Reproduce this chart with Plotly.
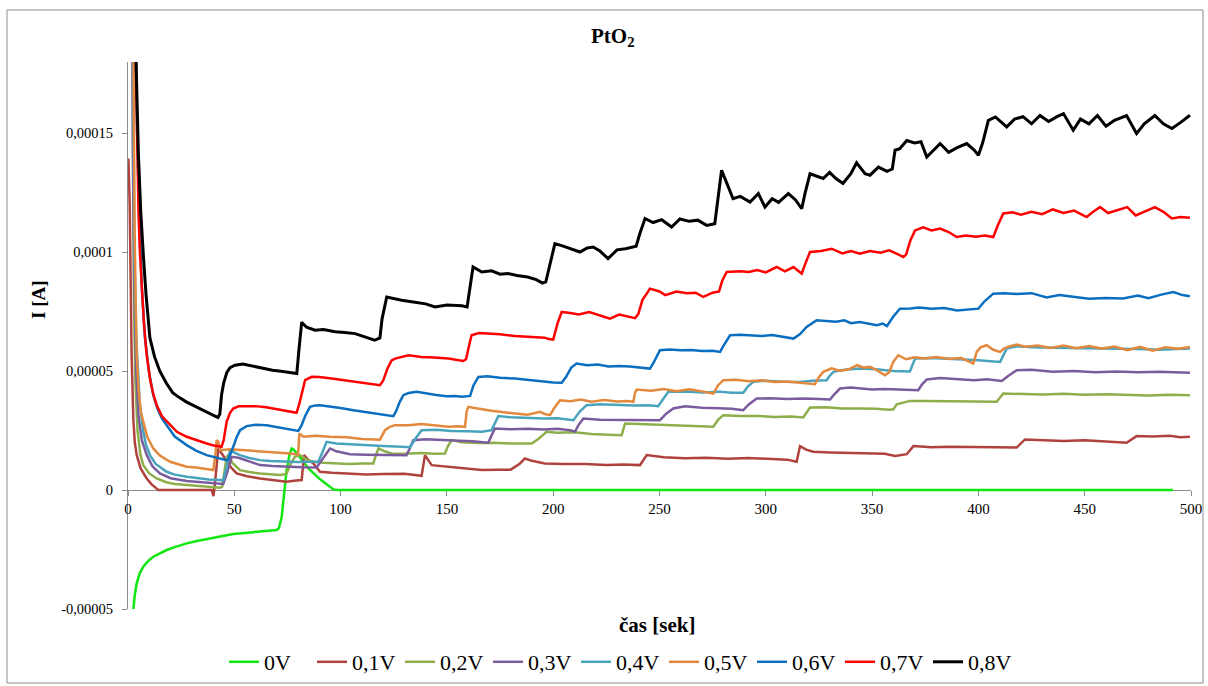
import plotly.graph_objects as go

# ---- data (time in s, current in microamperes) ----
t_0V = [2.5, 3.2, 4.1, 5.5, 7.2, 9.5, 11.9, 15, 18.2, 22, 27.6, 33, 38.6, 44, 49.5, 55, 60.5, 65, 69.9, 71, 72.3,
        73.5, 74.6, 76, 77, 78, 79.3, 82.5, 85, 87.2, 90, 91.9, 94.5, 96.6, 98.7, 150, 200, 300, 400, 491.5]
i_0V = [-50.4, -44, -39.2, -35, -32.2, -29.8, -28, -26.5, -25.2, -24, -22.4, -21.3, -20.3, -19.2, -18.5, -18, -17.5,
        -17.2, -16.8, -16, -11.2, -1, 8.4, 15, 17.5, 17, 15.4, 11.9, 9, 7, 4.8, 3.5, 1.5, 0.3, 0, 0, 0, 0, 0, 0]

t_01V = [0.2, 0.8, 1.3, 1.7, 2.5, 3.2, 4.1, 6, 8.8, 11, 14.3, 20, 30, 39.4, 40.2, 40.8, 42.5, 44, 46.4, 48.5, 51.1, 56,
         62.1, 68, 74.6, 78, 81.7, 82.8, 85, 87.2, 90.3, 96, 104, 112, 120, 130, 138.1, 139.7, 142.8, 150, 158, 166.4,
         174, 180, 184.4, 186.7, 190, 196, 205, 215, 225, 233, 240.8, 244, 252, 262, 272, 282, 292, 302, 310, 314.5,
         316.1, 319, 322.3, 330, 338, 344.3, 352, 356, 360.8, 366.3, 369.4, 378, 386, 395, 405, 418, 421.9, 430, 440,
         450, 460, 469.7, 474.4, 482, 490, 495, 499.5]
i_01V = [139.4, 120, 85, 56.7, 30, 20, 14.7, 9, 4.9, 2.5, 0, 0, 0, 0, -2.5, 2, 17.5, 15.5, 12.6, 9.5, 7, 5.8, 4.9, 4.2,
         3.5, 3.9, 4.2, 14.7, 12.5, 11.2, 7.7, 7.3, 7.0, 6.6, 6.8, 6.9, 6.0, 14.7, 10.5, 9.8, 9.2, 8.4, 8.6, 8.6, 11.2,
         13.3, 12.3, 11.2, 11.0, 11.0, 10.6, 10.8, 10.5, 14.7, 13.8, 13.4, 13.6, 13.2, 13.5, 13.2, 12.8, 11.9, 18.5,
         17, 16.1, 15.8, 15.6, 15.4, 15.5, 15.3, 14.3, 15.1, 18.5, 18.0, 18.2, 18.1, 18.2, 17.9, 21.3, 20.9, 20.6, 21.0,
         20.5, 19.9, 22.7, 22.5, 22.8, 22.2, 22.4]

t_02V = [1.8, 2.3, 2.8, 3.5, 4.5, 5.8, 7.2, 10, 13.5, 18, 22, 27.6, 35, 43.3, 44.3, 45.5, 46.4, 47.2, 49, 52.7, 57, 62.1,
         67, 71.5, 74.5, 76.5, 78.5, 80.9, 84, 87.2, 92, 96.6, 104, 110, 115.4, 116.5, 117.8, 121, 124, 130, 138, 144,
         149.1, 150.5, 152.3, 157, 165, 172, 180, 189.9, 193, 196.9, 202, 210, 218, 226, 232.2, 233.8, 240, 248, 256,
         265, 275.3, 277.5, 280, 288, 296, 304, 312, 317.6, 320.8, 328, 336, 344.3, 352, 358, 360, 361.6, 367.8, 375,
         385, 395, 408.6, 411.7, 420, 430, 440, 450, 460, 470, 480, 490, 499.5]
i_02V = [240, 130, 80, 45, 25, 15, 10.5, 7, 4.9, 3.3, 2.6, 2.1, 1.5, 1.0, 1.4, 8, 14, 14.7, 11.5, 8.4, 7.6, 7, 6.6, 6.3,
         6.8, 11, 14, 14.7, 12.8, 11.9, 11.5, 11.2, 11.0, 11.2, 11.2, 14.5, 17.5, 16.2, 15.4, 15.3, 15.6, 15.3, 15.4,
         18.5, 21, 20.1, 19.8, 19.9, 19.6, 19.6, 21.5, 24.5, 24.1, 24.3, 23.6, 23.3, 23.1, 28, 27.8, 27.6, 27.5, 27.2,
         26.6, 29.5, 31.5, 31.1, 31.2, 30.7, 30.9, 30.5, 34.7, 34.8, 34.3, 34.3, 34.2, 33.8, 34, 36.1, 37.5, 37.5, 37.3,
         37.1, 37.1, 40.6, 40.4, 40.2, 40.5, 40.1, 40.3, 40.2, 39.8, 40.1, 39.9]

t_03V = [1.8, 2.3, 2.9, 3.8, 4.9, 6.5, 8.8, 11.5, 15, 20, 27.6, 35, 43.3, 44.8, 46.5, 48.8, 52, 56, 62.1, 68, 74.6, 82,
         88.7, 91.5, 95, 98, 104.4, 112, 120, 131, 132.5, 134.2, 140, 148, 156, 162, 169.5, 171, 172.6, 180, 188, 196,
         202, 207.9, 210.3, 212, 214.2, 222, 232, 242, 250.2, 253, 256.5, 262, 270, 278, 284, 289.4, 292, 295.7, 302,
         310, 318, 325, 330.2, 332, 334.9, 340, 344.3, 350, 356, 364, 371.7, 373.5, 375.7, 382, 390, 398, 404, 411, 414,
         418, 425, 435, 445, 455, 465, 475, 485, 492, 499.5]
i_03V = [240, 140, 90, 52, 31.5, 21, 14.7, 10, 7, 5, 3.8, 3.2, 2.8, 2.6, 7, 14, 13.6, 12.3, 10.5, 10.1, 9.8, 9.6, 9.5,
         13, 17.5, 16.3, 15.1, 14.9, 14.9, 14.7, 17.5, 21, 21.4, 20.9, 20.7, 20.5, 19.9, 23, 25.9, 25.6, 25.8, 25.5,
         25.8, 25.2, 24.6, 27.5, 30.1, 29.6, 29.5, 29.3, 29.4, 32, 34.3, 35.2, 34.6, 34.4, 34.2, 33.6, 36, 38.5, 38.6,
         38.3, 38.5, 38.3, 38.1, 40, 42.7, 43.1, 42.7, 42.3, 42.5, 42.2, 42, 44.5, 46.5, 47.1, 46.8, 46.2, 46.6, 45.9, 48,
         50.4, 50.6, 49.8, 50.1, 49.6, 49.9, 49.6, 49.8, 49.5, 49.3]

t_04V = [2.0, 2.5, 3.0, 3.8, 5.6, 7.2, 8.5, 10.3, 13, 18.2, 22, 27.6, 33, 38, 43.3, 44.8, 46.4, 48, 50, 52.7, 57, 62.1,
         67, 73, 80, 85, 89.5, 91.5, 93.4, 98, 105, 112, 120, 128.7, 132.6, 135.5, 138.1, 145, 152, 160, 166.4, 171,
         172.5, 174.2, 180, 188, 196, 202, 209.5, 212.5, 215.7, 222, 230, 238, 245, 249.4, 251.5, 254.1, 262, 270, 278,
         284, 289.4, 291.5, 294.1, 300, 308, 316, 322, 328.6, 330, 331.8, 337, 344.3, 352, 360, 367.8, 370.2, 378, 386,
         394, 400, 410.2, 413.3, 418, 425, 435, 445, 455, 465, 475, 485, 493, 499.5]
i_04V = [240, 150, 100, 65, 35.7, 24.5, 19, 14.7, 11, 7.7, 6.5, 5.6, 4.9, 4.5, 4.2, 4.0, 10, 16.8, 15.8, 14.7, 13.5,
         12.6, 12.2, 11.9, 11.8, 11.9, 11.9, 16, 20.3, 19.6, 19.2, 18.8, 18.5, 18.2, 18, 22, 25.2, 25.4, 24.8, 24.7,
         24.5, 25.2, 28, 31.1, 30.6, 30.3, 30.1, 30.2, 29.4, 33, 35.7, 36.1, 35.8, 35.6, 35.7, 35.3, 38, 41.3, 41.5, 41.0,
         41.4, 40.9, 40.9, 43.5, 45.5, 46, 45.6, 45.4, 46, 46.2, 48, 49.7, 50.6, 51.1, 50.8, 50.1, 49.9, 55.3, 55.5, 55.2,
         55, 54.6, 53.9, 59.5, 60.5, 60.1, 59.9, 59.8, 59.4, 59.5, 59.3, 59, 59.4, 59.5]

t_05V = [2.2, 2.6, 3.1, 3.6, 4.1, 5.0, 6.0, 7.2, 9, 11.9, 15, 19.8, 24, 27.6, 32, 36, 40.1, 41, 41.7, 42.5, 43.3, 48,
         55, 62, 68, 76.2, 80, 80.6, 82.5, 88, 95, 103, 110, 117, 118.5, 120.9, 123.2, 125.6, 132, 138, 144, 150.7, 155,
         158.5, 159.3, 160.1, 163, 166.4, 171, 176, 182, 188, 193.8, 196, 198.5, 200.5, 203.2, 208, 213, 218, 224, 230,
         235, 237.7, 238.5, 239.3, 246, 252, 258, 264, 270, 275.3, 277.5, 280, 286, 292, 298, 304, 310, 316, 320, 323.1,
         325, 327, 331, 335, 339, 343, 346, 349, 352.2, 356, 358, 360, 362.3, 366, 370, 375, 380, 386, 392, 397.6, 399.2,
         401, 403.9, 407, 410.2, 412, 414.9, 418, 422, 428, 434, 440, 446, 452, 458, 464, 470, 476, 482, 488, 494, 499.5]
i_05V = [240, 160, 110, 80, 56.7, 42, 33, 28.7, 22.5, 17.5, 14.5, 11.9, 10.7, 9.8, 9.5, 8.8, 8.4, 14, 21, 20.3, 16.8,
         17.2, 16.8, 16.5, 15.9, 15.4, 15, 23.8, 22.4, 22.8, 22.4, 22.2, 21.5, 21, 21.2, 25.2, 26.6, 27.3, 27.3, 27.8,
         27.2, 26.6, 26.8, 26.6, 33, 35, 34.5, 33.9, 33.4, 32.8, 32.2, 31.7, 32.9, 32, 31.5, 34.5, 37.8, 37.4, 38.1,
         37.2, 37.9, 37.3, 37.5, 37.1, 41, 42.3, 41.8, 42.5, 41.6, 42.4, 41.5, 40.6, 44, 46.2, 46.4, 45.8, 46.2, 45.4,
         45.7, 45.2, 44.8, 44.5, 47.5, 49.7, 51.2, 50.1, 50.8, 52.5, 51.5, 51.8, 50.4, 48.3, 49.5, 54, 56.7, 55, 55.8,
         55.3, 56, 55.2, 55.5, 53.2, 58.1, 60, 60.9, 59, 58.1, 59.5, 60.5, 61.2, 60.3, 60.8, 59.8, 60.8, 59.6, 60.6,
         59.5, 60.4, 58.8, 60.2, 58.6, 60.1, 59.4, 60.2]

t_06V = [2.8, 3.5, 4.3, 5.0, 5.6, 6.5, 8, 10, 11.9, 14, 16, 18.2, 22, 27.6, 32, 37, 42, 46.4, 47.2, 48.5, 49.5, 51, 52.7,
         55.8, 60, 65.2, 70, 74.6, 78, 80.1, 81.5, 83.5, 85.6, 88, 90.3, 95, 100, 106, 111, 117, 121, 124.8, 126, 127.8,
         129.5, 132, 135.8, 140, 145, 149.9, 154, 157, 160.9, 162.5, 164.8, 169, 175, 182, 189, 196, 200, 204, 206,
         208.5, 211, 216, 221, 226, 231, 236, 241, 245.5, 247.5, 250.2, 255, 260, 265, 270, 275, 278.5, 280, 283.2, 288,
         293, 298, 303, 308, 313, 316, 319.2, 323.9, 328, 333, 337, 340, 344.3, 348, 352.2, 355, 357, 360, 363.1, 368,
         372, 378, 384, 390, 396, 400, 403, 407, 412, 418, 425, 432.1, 438, 445, 452, 460, 468, 475, 480, 486, 491.7,
         496, 499.5]
i_06V = [240, 190, 150, 125, 105.8, 85, 63.7, 49, 39.9, 34, 30, 27.3, 22.5, 18.9, 16.6, 14.7, 13.5, 12.6, 12.9, 15.5,
         18.2, 22, 25.2, 26.9, 27.5, 27.3, 26.6, 25.9, 25.3, 24.9, 27, 31.5, 35, 35.6, 35.7, 35.2, 34.5, 33.6, 33, 32.2,
         31.8, 31.1, 33, 37, 39.9, 40.8, 41.3, 40.6, 40, 39.5, 39.6, 39.2, 39.6, 44, 47.6, 47.9, 47.2, 46.9, 46.2, 45.5,
         45.2, 45.1, 47.5, 51.5, 53.2, 52.5, 52.8, 52, 52.2, 52, 51.5, 51.1, 54, 58.8, 59.1, 58.8, 58.9, 58.5, 58.6,
         58.1, 60.5, 65.1, 65.3, 65, 64.8, 65.2, 64.3, 63.7, 65.5, 68.6, 71.4, 71, 70.8, 71.4, 70.2, 70.7, 70, 69.3, 70,
         69, 73, 76.3, 76.4, 76.8, 76.2, 76.6, 75.5, 75.9, 76.3, 79.5, 82.6, 82.8, 82.5, 82.8, 81, 82, 81.2, 80.5, 80.8,
         80.6, 81.8, 80.7, 82.2, 83.3, 82, 81.5]

t_07V = [2.5, 3.2, 4.2, 5.0, 5.6, 6.4, 7.5, 8.8, 10.5, 12, 13.5, 16, 19.8, 23, 27.6, 32, 37, 41, 44, 45, 46.4, 48, 49.5,
         52, 55.8, 60, 65, 70, 75, 78.5, 79.3, 80.5, 82, 83.3, 86.4, 90, 95.8, 101, 106.8, 112, 118.5, 120, 122, 124,
         125.6, 131.9, 138, 144, 150.7, 157.7, 159, 160.5, 161.6, 165, 169.5, 175, 182, 189, 196, 198, 200, 202, 204,
         208, 212, 217, 222, 226.7, 231, 235, 238.5, 240, 242, 244, 245.5, 250, 252.7, 258, 263, 267, 270.6, 275, 278,
         279.5, 281.6, 288, 292, 296, 300, 305.1, 309, 313, 316.9, 318.5, 320.8, 326, 331, 336, 340, 344.3, 349, 354,
         358, 362, 364.7, 366, 368, 370.2, 374, 378, 382, 386, 389.8, 394, 399, 403, 407, 409, 411.7, 416, 420, 425,
         430, 435, 440, 445, 450.9, 454, 457.2, 461, 466, 470, 474, 478, 483, 487, 491, 495, 499.5]
i_07V = [240, 200, 150, 115, 100, 85, 70, 56.7, 46, 40, 35.7, 31, 27.3, 24.5, 22.4, 21, 19.6, 18.6, 18.2, 21, 28.7,
         32.5, 34.3, 35.2, 35.4, 35.3, 34.8, 34, 33.4, 32.9, 32.5, 36, 42, 46.2, 47.6, 47.5, 46.9, 46.3, 45.5, 44.8,
         44.1, 46, 51, 54.5, 55.3, 56.7, 56, 55.8, 55.3, 54.3, 55, 61, 65.1, 66, 65.8, 65.5, 64.8, 64.5, 64.1, 63.5,
         63.3, 70, 74.9, 74.5, 73.8, 74.9, 73.5, 72.1, 73.8, 73, 72.3, 74, 80, 82.6, 84.7, 83.5, 82, 83.5, 82.8, 83,
         81.2, 83, 83.5, 88, 91.7, 92, 91.7, 92.5, 91.5, 93.8, 92, 93.8, 91, 95, 100.1, 100.5, 101.5, 99.5, 100.5, 99.4,
         100.5, 99.8, 100.8, 99.2, 98, 99, 105, 109.2, 110.5, 109.2, 110, 108.5, 106.4, 107, 106.5, 107, 106.4, 111,
         116.3, 116.8, 115.8, 117, 116, 118, 116.5, 117.5, 114.8, 117, 119, 116.5, 117.8, 119, 115.5, 117, 119, 117,
         114.2, 114.8, 114.5]

t_08V = [2.8, 3.8, 4.9, 6.0, 7.2, 8.5, 10.3, 12.5, 15, 18, 21, 24, 27.6, 31, 35, 38.5, 42.3, 43.2, 44, 45, 46.5, 48,
         50.3, 54, 59, 63, 68, 72, 76, 79.4, 80.3, 81.7, 84, 88, 92, 97.4, 102, 106.8, 111, 116, 118.5, 119.5, 121.7,
         125, 128.7, 135, 140, 144.4, 150, 157, 159.5, 161, 162.3, 166.4, 171, 175, 178.7, 183, 188, 192, 195, 196.5,
         198.5, 200.8, 204, 208, 212.6, 216, 218.8, 222, 225.8, 230, 234, 239, 240.8, 243.2, 247, 251, 255.7, 259.6,
         264, 268, 272.2, 276, 277.5, 279.2, 282.4, 284.6, 288, 292.6, 296.5, 299.6, 303, 306, 310.6, 314, 316.9, 318.5,
         320.8, 324, 327, 330, 333, 336.3, 340, 342.7, 346.7, 349, 353, 357, 359.5, 360.8, 363, 366.3, 370, 373, 375.7,
         379, 382, 386, 390, 394.5, 398, 400, 402, 404.7, 408, 413.3, 417, 421, 425, 429, 433, 437, 440, 444.6, 448,
         452, 456, 460, 464, 469.7, 474.4, 478, 483, 487, 491, 495, 499.5]
i_08V = [240, 180, 141, 117, 99, 82, 64, 56, 50, 45, 41, 39, 37, 35.5, 33.5, 32, 30.5, 32, 40, 45, 49.5, 51.5, 52.5, 53,
         52, 51.5, 50.4, 50, 49.3, 49, 58, 70.6, 68.5, 67.2, 67.5, 66.6, 66.3, 65.8, 64.5, 63, 64, 72, 81.2, 80.5, 79.8,
         79, 78.3, 77, 77.8, 77.5, 77, 86, 93.8, 91.7, 92.2, 90.8, 91.1, 90.2, 89.6, 88.5, 87, 87.5, 95, 103.6, 102.8,
         101.5, 100.1, 101.8, 102.2, 100.5, 97.3, 101, 101.5, 102.5, 108, 114.2, 112.5, 113.7, 110.6, 114, 113, 113.5,
         111.3, 112, 122, 134.5, 127.4, 122.5, 123.5, 121.1, 124.7, 119, 122.5, 121, 124.7, 122, 118.3, 125, 133, 132,
         131, 133.6, 131, 128.9, 133, 137.6, 133, 132.4, 135.8, 134, 135, 142.9, 143.5, 147, 146, 146.5, 140, 143, 145.7,
         142, 144, 145.7, 143, 140.8, 146, 155.5, 156.9, 152.7, 156, 157, 154, 157.5, 155, 157, 158.3, 151.3, 156, 154,
         157.5, 153, 155.5, 157.5, 149.9, 154, 157.5, 154, 152, 154.5, 157.6]

series_names = ["0V", "0,1V", "0,2V", "0,3V", "0,4V", "0,5V", "0,6V", "0,7V", "0,8V"]
series_t = [t_0V, t_01V, t_02V, t_03V, t_04V, t_05V, t_06V, t_07V, t_08V]
series_i = [i_0V, i_01V, i_02V, i_03V, i_04V, i_05V, i_06V, i_07V, i_08V]
series_colors = ["#10E610", "#B0423E", "#8DAE4A", "#7A5C9E", "#48A3BC", "#E3893D", "#0A6FC0", "#FF0000", "#000000"]

y_tickvals = [-0.00005, 0, 0.00005, 0.0001, 0.00015]
y_ticktext = ["-0,00005", "0", "0,00005", "0,0001", "0,00015"]
x_tickvals = [0, 50, 100, 150, 200, 250, 300, 350, 400, 450, 500]

YMIN, YMAX = -0.00005, 0.00018
SERIF = "Liberation Serif, Times New Roman, serif"

fig = go.Figure()
for name, ts, vs, col in zip(series_names, series_t, series_i, series_colors):
    fig.add_trace(go.Scatter(
        x=ts, y=[v * 1e-6 for v in vs], mode="lines", name=name,
        line=dict(color=col, width=3 if name == "0,8V" else 2.5),
    ))

W, H = 1208, 686
L, R, T, B = 128, 17, 62, 77
pw, ph = W - L - R, H - T - B

def px(xp):
    return (xp - L) / pw

def py(yp):
    return (H - B - yp) / ph

fig.update_layout(
    width=W, height=H,
    margin=dict(l=L, r=R, t=T, b=B, autoexpand=False),
    paper_bgcolor="white", plot_bgcolor="white",
    font=dict(family=SERIF, color="#000000", size=15),
    showlegend=True,
    legend=dict(orientation="h", x=px(620), xanchor="center", y=py(662), yanchor="middle",
                font=dict(family=SERIF, size=22), entrywidth=43, entrywidthmode="pixels",
                bgcolor="rgba(0,0,0,0)", tracegroupgap=0, itemwidth=30),
    xaxis=dict(range=[0, 500], tickvals=x_tickvals, showgrid=False, zeroline=False,
               showline=True, linecolor="#8C8C8C", linewidth=1, ticks="outside", ticklen=5,
               tickcolor="#8C8C8C", anchor="free", position=(0 - YMIN) / (YMAX - YMIN),
               tickfont=dict(family=SERIF, size=15), layer="below traces"),
    yaxis=dict(range=[YMIN, YMAX], tickvals=y_tickvals, ticktext=y_ticktext, showgrid=False,
               zeroline=False, showline=True, linecolor="#8C8C8C", linewidth=1, ticks="outside",
               ticklen=5, tickcolor="#8C8C8C", tickfont=dict(family=SERIF, size=14.5),
               ticklabelstandoff=6, layer="below traces"),
    annotations=[
        dict(text="<b>PtO<sub>2</sub></b>", x=px(613), y=py(37), xref="paper", yref="paper",
             showarrow=False, font=dict(family=SERIF, size=21), xanchor="center", yanchor="middle"),
        dict(text="<b>čas [sek]</b>", x=px(657), y=py(625), xref="paper", yref="paper",
             showarrow=False, font=dict(family=SERIF, size=21), xanchor="center", yanchor="middle"),
        dict(text="<b>I [A]</b>", x=px(38), y=py(300), xref="paper", yref="paper", textangle=-90,
             showarrow=False, font=dict(family=SERIF, size=19), xanchor="center", yanchor="middle"),
    ],
    shapes=[dict(type="rect", xref="paper", yref="paper", x0=px(7), x1=px(1203), y0=py(683), y1=py(10),
                 line=dict(color="#8C8C8C", width=1), layer="below")],
)

fig.write_html("out.html")
